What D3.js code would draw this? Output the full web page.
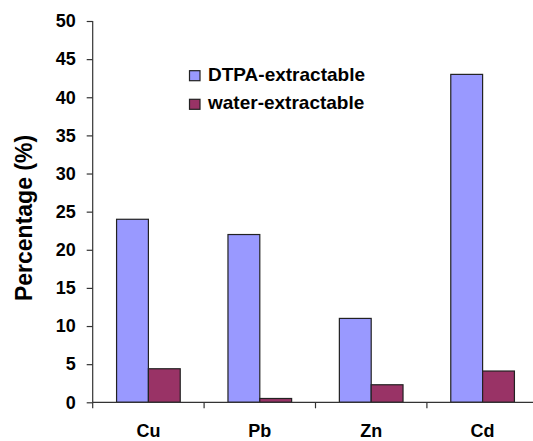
<!DOCTYPE html>
<html><head><meta charset="utf-8">
<script src="https://cdn.jsdelivr.net/npm/d3@7"></script>
<style>body{margin:0;background:#fff}svg{display:block}text{font-family:"Liberation Sans",Arial,sans-serif;font-weight:bold;fill:#000}</style>
</head><body>
<svg id="c" width="533" height="441"></svg>
<script>
const categories = ["Cu","Pb","Zn","Cd"];
const dtpa = [24, 22, 11, 43];
const water = [4.4, 0.5, 2.3, 4.1];
const seriesNames = ["DTPA-extractable","water-extractable"];
const seriesColors = ["#9999FF","#993366"];
const yTicks = [0,5,10,15,20,25,30,35,40,45,50];

const svg = d3.select("#c");
const x0 = 92.7, bandW = 111.4, yBot = 402.3, yTop = 21;
const x = d3.scaleBand().domain(categories).range([x0, x0 + bandW*4]).paddingInner(0).paddingOuter(0);
const y = d3.scaleLinear().domain([0,50]).range([yBot, yTop]);
const barW = x.bandwidth()/3.5;

const rows = categories.map((c,i)=>({c, v:[dtpa[i], water[i]]}));

// bars
rows.forEach(r=>{
  r.v.forEach((v,k)=>{
    svg.append("rect")
      .attr("x", x(r.c) + 0.75*barW + k*barW)
      .attr("y", y(v))
      .attr("width", barW)
      .attr("height", y(0)-y(v))
      .attr("fill", seriesColors[k])
      .attr("stroke", "#222")
      .attr("stroke-width", 1.2);
  });
});

// y axis
const ya = svg.append("g").attr("transform",`translate(${x0},0)`)
  .call(d3.axisLeft(y).tickValues(yTicks).tickSize(6).tickPadding(11));
ya.select(".domain").attr("stroke","#333").attr("stroke-width",1.2).attr("d",`M-0,${yTop}V${yBot}`);
ya.selectAll(".tick line").attr("stroke","#333").attr("stroke-width",1.2);
ya.selectAll(".tick text").style("font-size","18px").style("font-family","Liberation Sans, Arial").style("font-weight","bold").attr("fill","#000");

// x axis line
svg.append("line").attr("x1",x0).attr("x2",533).attr("y1",yBot).attr("y2",yBot).attr("stroke","#333").attr("stroke-width",1.2);
// x ticks at band boundaries
categories.forEach(c=>{
  svg.append("line").attr("x1",x(c)).attr("x2",x(c)).attr("y1",yBot).attr("y2",yBot+6).attr("stroke","#333").attr("stroke-width",1.2);
  svg.append("text").attr("x",x(c)+x.bandwidth()/2).attr("y",437).attr("text-anchor","middle").style("font-size","18px").text(c);
});

// y label
svg.append("text").attr("transform","translate(32,218) rotate(-90)").attr("text-anchor","middle").style("font-size","23px").text("Percentage (%)");

// legend
seriesNames.forEach((n,k)=>{
  const yy = 70.7 + k*28.6;
  svg.append("rect").attr("x",189.5).attr("y",yy).attr("width",10.5).attr("height",10).attr("fill",seriesColors[k]).attr("stroke","#222").attr("stroke-width",1.2);
  svg.append("text").attr("x",208).attr("y",yy+10).style("font-size","19px").text(n);
});
</script>
</body></html>
